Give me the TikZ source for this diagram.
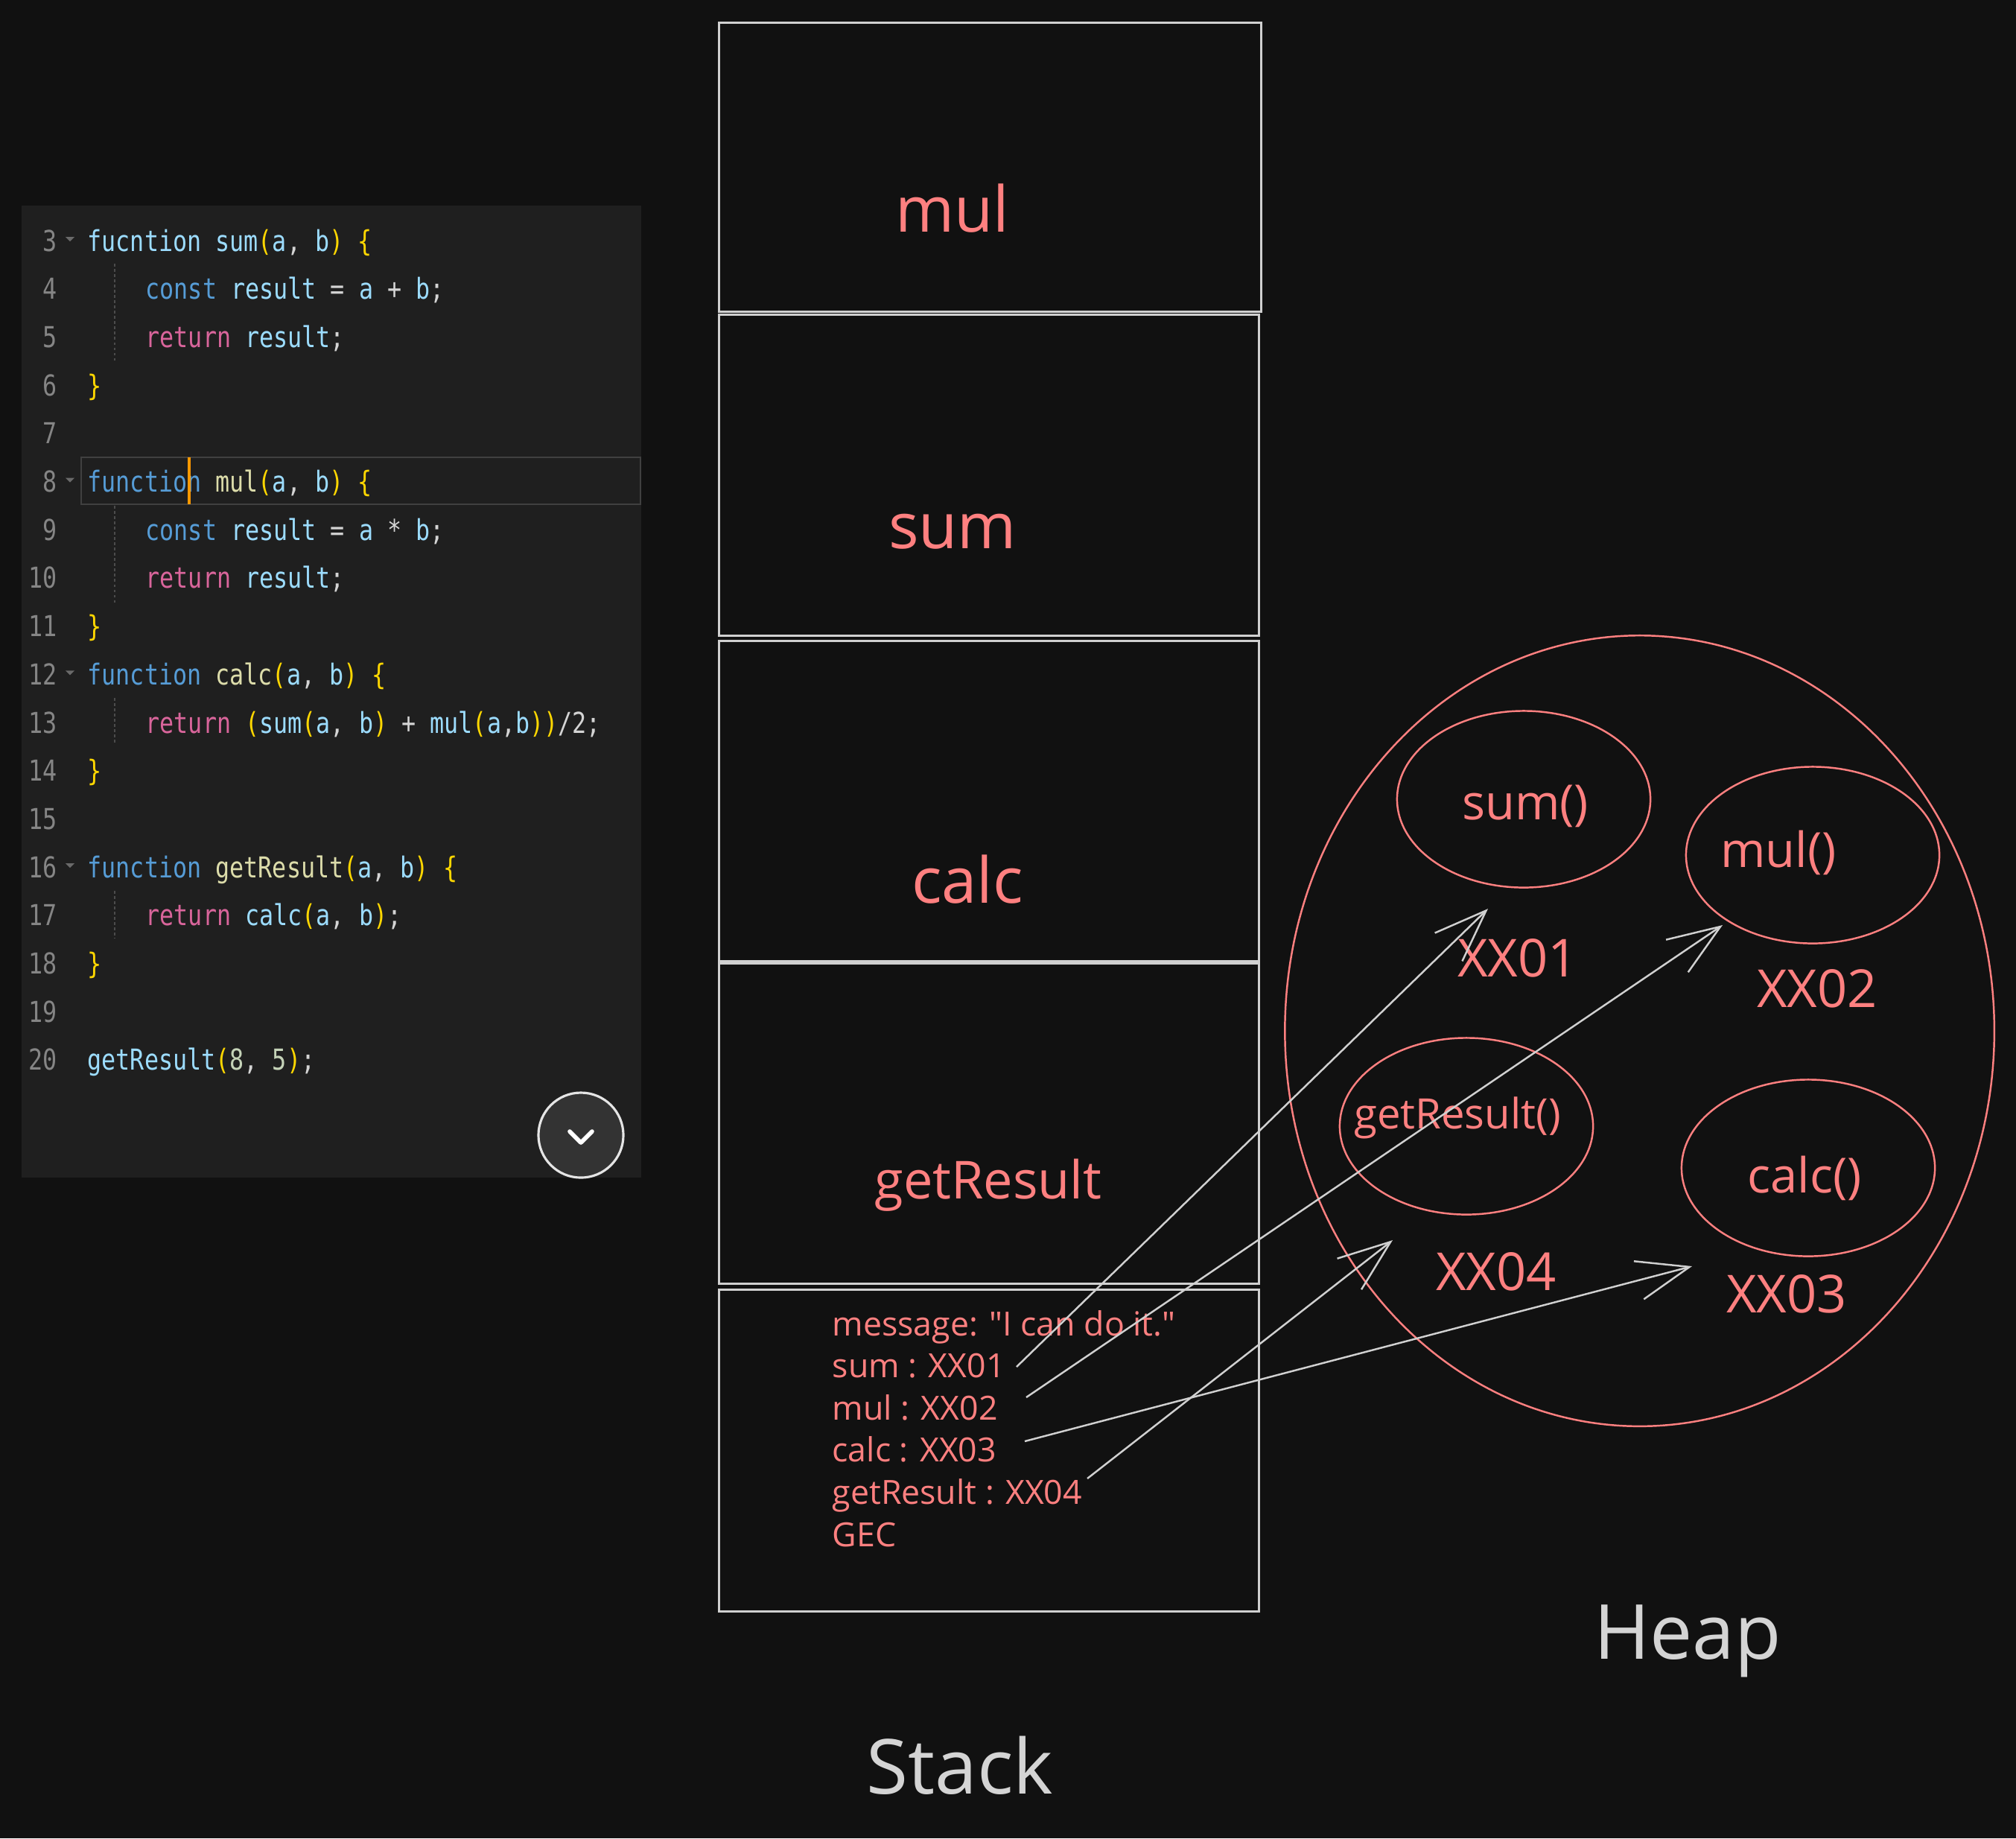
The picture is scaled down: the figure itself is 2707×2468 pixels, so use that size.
\documentclass[tikz,border=0pt]{standalone}
\usepackage{fontspec}
\setmainfont{Open Sans}
\newfontfamily\codefont[FakeStretch=0.82]{DejaVu Sans Mono}
\usetikzlibrary{arrows.meta,shapes.geometric,positioning}

\definecolor{bg}{HTML}{111111}
\definecolor{panel}{HTML}{1F1F1F}
\definecolor{salmon}{HTML}{FF8080}
\definecolor{frame}{HTML}{D0D0D0}
\definecolor{kwblue}{HTML}{569CD6}
\definecolor{idcyan}{HTML}{9CDCFE}
\definecolor{fnyellow}{HTML}{DCDCAA}
\definecolor{retpink}{HTML}{D9659B}
\definecolor{bracegold}{HTML}{FFD700}
\definecolor{plain}{HTML}{D4D4D4}
\definecolor{numgreen}{HTML}{C5D3B8}
\definecolor{lineno}{HTML}{858585}

\newcommand\ckw[1]{\textcolor{kwblue}{#1}}
\newcommand\cvar[1]{\textcolor{idcyan}{#1}}
\newcommand\cfn[1]{\textcolor{fnyellow}{#1}}
\newcommand\cret[1]{\textcolor{retpink}{#1}}
\newcommand\cbr[1]{\textcolor{bracegold}{#1}}
\newcommand\cnum[1]{\textcolor{numgreen}{#1}}

\tikzset{frame/.style={draw=frame, line width=0.85pt},
         codeline/.style={anchor=base west, inner sep=0pt, text=plain,
           font=\codefont\fontsize{11}{13}\selectfont},
         lnum/.style={anchor=base east, inner sep=0pt, text=lineno,
           font=\codefont\fontsize{11}{13}\selectfont},
         guide/.style={draw=black!70!white, line width=0.5pt, dash pattern=on 1pt off 1pt},
         framelbl/.style={anchor=base, inner sep=0pt, text=salmon, font=\fontsize{24.2}{28}\selectfont},
         gecline/.style={anchor=base west, inner sep=0pt, text=salmon, font=\fontsize{12.7}{15}\selectfont},
         heapfn/.style={ellipse, draw=salmon, line width=0.7pt, minimum width=3.4cm, minimum height=2.37cm},
         fnlbl/.style={anchor=base, inner sep=0pt, text=salmon, font=\fontsize{18.5}{22}\selectfont},
         addr/.style={anchor=base, inner sep=0pt, text=salmon, font=\fontsize{20}{24}\selectfont},
         title/.style={anchor=base, inner sep=0pt, text=plain, font=\fontsize{29}{34}\selectfont},
         ptr/.style={draw=frame, line width=0.7pt, -{Straight Barb[length=20pt,width=15pt]}}}

\begin{document}
\begin{tikzpicture}[x=0.01cm, y=-0.01cm]
  \useasboundingbox (0,0) rectangle (2707,2468);
  \fill[bg] (0,0) rectangle (2707,2468);

  % code panel
  \fill[panel] (29,276) rectangle (861,1581);
  \draw[draw=black!75!white, line width=0.7pt] (109,614) rectangle (860,677);
  \foreach \n in {3,...,20}
    \node[lnum] (n\n) at (77,{337+(\n-3)*64.7}) {\n};
  \foreach \n in {3,8,12,16}
    \fill[lineno!80!black] (n\n.base east) ++(11,-19) -- ++(12,0) -- ++(-6,6) -- cycle;
  \foreach \a/\b in {354/486, 679/810, 937/1000, 1196/1260}
    \draw[guide] (154,\a) -- (154,\b);
  \node[codeline] (c3)  at (117,337)    {\cvar{fucntion sum}\cbr{(}\cvar{a}, \cvar{b}\cbr{)} \cbr{\{}};
  \node[codeline] (c4)  at (195,401.7)  {\ckw{const} \cvar{result} = \cvar{a} + \cvar{b};};
  \node[codeline] (c5)  at (195,466.4)  {\cret{return} \cvar{result};};
  \node[codeline] (c6)  at (117,531.1)  {\cbr{\}}};
  \node[codeline] (c8)  at (117,660.5)  {\ckw{function} \cfn{mul}\cbr{(}\cvar{a}, \cvar{b}\cbr{)} \cbr{\{}};
  \node[codeline] (c9)  at (195,725.2)  {\ckw{const} \cvar{result} = \cvar{a} * \cvar{b};};
  \node[codeline] (c10) at (195,789.9)  {\cret{return} \cvar{result};};
  \node[codeline] (c11) at (117,854.6)  {\cbr{\}}};
  \node[codeline] (c12) at (117,919.3)  {\ckw{function} \cfn{calc}\cbr{(}\cvar{a}, \cvar{b}\cbr{)} \cbr{\{}};
  \node[codeline] (c13) at (195,984)    {\cret{return} \cbr{(}\cvar{sum}\cbr{(}\cvar{a}, \cvar{b}\cbr{)} + \cvar{mul}\cbr{(}\cvar{a},\cvar{b}\cbr{))}/2;};
  \node[codeline] (c14) at (117,1048.7) {\cbr{\}}};
  \node[codeline] (c16) at (117,1178.1) {\ckw{function} \cfn{getResult}\cbr{(}\cvar{a}, \cvar{b}\cbr{)} \cbr{\{}};
  \node[codeline] (c17) at (195,1242.8) {\cret{return} \cvar{calc}\cbr{(}\cvar{a}, \cvar{b}\cbr{)};};
  \node[codeline] (c18) at (117,1307.5) {\cbr{\}}};
  \node[codeline] (c20) at (117,1436.9) {\cvar{getResult}\cbr{(}\cnum{8}, \cnum{5}\cbr{)};};
  \draw[draw=orange!80!yellow, line width=1.2pt] (254,614) -- (254,677);
  \node[circle, draw=white!90!black, fill=black!80!white, line width=0.9pt, minimum size=1.14cm] (scroll) at (780,1524) {};
  \draw[white, line width=1.6pt, line cap=round, line join=round]
    (scroll.center) ++(-15,-5) -- ++(15,15) -- ++(15,-15);

  % stack
  \draw[frame] (965,30) rectangle (1693,418);
  \draw[frame] (965,422) rectangle (1690,853);
  \draw[frame] (965,860) rectangle (1690,1290);
  \draw[frame] (965,1293) rectangle (1690,1723);
  \draw[frame] (965,1731) rectangle (1690,2163);
  \node[framelbl] (smul) at (1279,311) {mul};
  \node[framelbl] (ssum) at (1279,736) {sum};
  \node[framelbl] (scalc) at (1299,1212) {calc};
  \node[framelbl, font=\fontsize{20}{24}\selectfont] (sres) at (1327,1609) {getResult};
  \node[gecline] (gmsg) at (1117,1793) {message: \textquotedbl I can do it.\textquotedbl};
  \node[gecline] (gsum) at (1117,1849.6) {sum : XX01};
  \node[gecline] (gmul) at (1117,1906) {mul : XX02};
  \node[gecline] (gcalc) at (1117,1962.5) {calc : XX03};
  \node[gecline] (gres) at (1117,2019) {getResult : XX04};
  \node[gecline] (ggec) at (1117,2076) {GEC};
  \node[title] (stack) at (1289,2408) {Stack};

  % heap
  \node[ellipse, draw=salmon, line width=0.7pt, minimum width=9.52cm, minimum height=10.61cm] (heap) at (2201.6,1384) {};
  \node[heapfn] (esum) at (2046,1073) {};
  \node[heapfn] (emul) at (2434,1148) {};
  \node[heapfn] (eres) at (1969,1512) {};
  \node[heapfn] (ecalc) at (2428,1568) {};
  \node[fnlbl] (lsum) at (2048,1100) {sum()};
  \node[fnlbl] (lmul) at (2388,1164) {mul()};
  \node[fnlbl, font=\fontsize{16}{19}\selectfont] (lres) at (1957,1515) {getResult()};
  \node[fnlbl] (lcalc) at (2423,1601) {calc()};
  \node[addr] (a01) at (2038,1311) {XX01};
  \node[addr] (a02) at (2440,1352) {XX02};
  \node[addr] (a04) at (2009,1732) {XX04};
  \node[addr] (a03) at (2399,1762) {XX03};
  \node[title] (heaplbl) at (2266,2227) {Heap};

  % references
  \coordinate (s01) at (1365,1835);
  \coordinate (s02) at (1378,1876);
  \coordinate (s03) at (1376,1935);
  \coordinate (s04) at (1460,1985);
  \coordinate (t01) at (1998,1220);
  \coordinate (t02) at (2313,1242);
  \coordinate (t03) at (2272,1700);
  \coordinate (t04) at (1870,1665);
  \foreach \k in {01,02,03,04}
    \draw[ptr] (s\k) -- (t\k);
\end{tikzpicture}
\end{document}
